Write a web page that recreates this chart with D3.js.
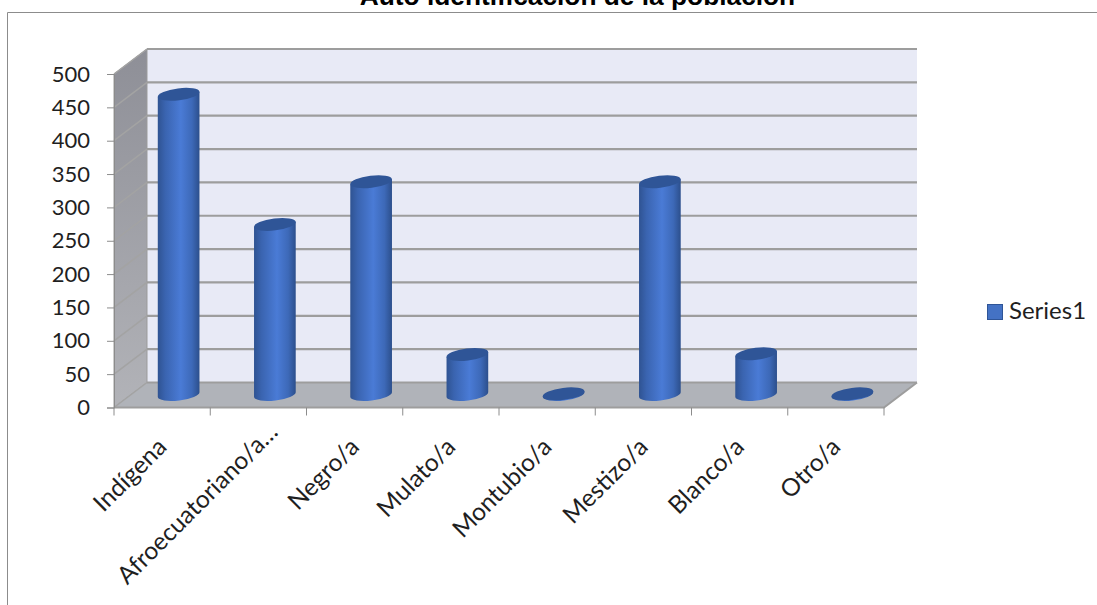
<!DOCTYPE html>
<html>
<head>
<meta charset="utf-8">
<script src="https://d3js.org/d3.v7.min.js"></script>
<style>
  html, body { margin: 0; padding: 0; background: #fff; overflow: hidden; }
  svg { display: block; }
</style>
</head>
<body>
<div id="chart"></div>
<script>
// Chart data
const categories = ["Indígena", "Afroecuatoriano/a…", "Negro/a", "Mulato/a", "Montubio/a", "Mestizo/a", "Blanco/a", "Otro/a"];
const series1 = [450, 255, 319, 60, 1, 319, 61, 1];
const yTicks = [0, 50, 100, 150, 200, 250, 300, 350, 400, 450, 500];
const seriesName = "Series1";
const chartTitle = "Auto identificación de la población";

const width = 1097, height = 605;
const depthX = 33, depthY = -25;   // offset of the back wall from the front edge

const svg = d3.select("#chart").append("svg")
    .attr("width", width)
    .attr("height", height);

const x = d3.scaleBand().domain(categories).range([114, 884]);
const y = d3.scaleLinear().domain([0, 500]).range([407.5, 74]);

// Gradients
const defs = svg.append("defs");

const barGrad = defs.append("linearGradient").attr("id", "barGrad");
barGrad.append("stop").attr("offset", "0%").attr("stop-color", "#2f5392");
barGrad.append("stop").attr("offset", "18%").attr("stop-color", "#3a64b0");
barGrad.append("stop").attr("offset", "55%").attr("stop-color", "#4a7bd6");
barGrad.append("stop").attr("offset", "82%").attr("stop-color", "#3d69b8");
barGrad.append("stop").attr("offset", "100%").attr("stop-color", "#2c4f8c");

const wallGrad = defs.append("linearGradient").attr("id", "wallGrad")
    .attr("x1", 0).attr("y1", 0).attr("x2", 0).attr("y2", 1);
wallGrad.append("stop").attr("offset", "0%").attr("stop-color", "#8e8f97");
wallGrad.append("stop").attr("offset", "100%").attr("stop-color", "#b2b3b8");

// Outer frame, only top and left show in the crop
svg.append("path")
    .attr("d", `M7.5,${height} V12.5 H${width}`)
    .attr("fill", "none")
    .attr("stroke", "#8c8c8c")
    .attr("stroke-width", 1);

// Title, the reference has its top cut by the page edge
svg.append("text")
    .attr("x", 577.5)
    .attr("y", 5)
    .attr("text-anchor", "middle")
    .attr("font-family", "Liberation Sans")
    .attr("font-weight", "bold")
    .attr("font-size", 26.3)
    .attr("fill", "#000")
    .text(chartTitle);

const x0 = x.range()[0], x1 = x.range()[1];
const pts = a => a.map(p => p.join(",")).join(" ");

// Back wall
svg.append("polygon")
    .attr("points", pts([[x0 + depthX, y(500) + depthY], [x1 + depthX, y(500) + depthY], [x1 + depthX, y(0) + depthY], [x0 + depthX, y(0) + depthY]]))
    .attr("fill", "#e8eaf6");

// Side wall
svg.append("polygon")
    .attr("points", pts([[x0, y(0)], [x0, y(500)], [x0 + depthX, y(500) + depthY], [x0 + depthX, y(0) + depthY]]))
    .attr("fill", "url(#wallGrad)")
    .attr("stroke", "#9b9b9b")
    .attr("stroke-width", 1);

// Floor
svg.append("polygon")
    .attr("points", pts([[x0, y(0)], [x0 + depthX, y(0) + depthY], [x1 + depthX, y(0) + depthY], [x1, y(0)]]))
    .attr("fill", "#b0b3b9");

// Gridlines on back wall and side wall
const grid = svg.append("g");
grid.selectAll("line.back")
    .data(yTicks)
    .join("line")
    .attr("class", "back")
    .attr("x1", x0 + depthX)
    .attr("x2", x1 + depthX)
    .attr("y1", d => y(d) + depthY)
    .attr("y2", d => y(d) + depthY)
    .attr("stroke", "#9d9d9d")
    .attr("stroke-width", 2.2);
grid.selectAll("line.side")
    .data(yTicks)
    .join("line")
    .attr("class", "side")
    .attr("x1", x0)
    .attr("x2", x0 + depthX)
    .attr("y1", d => y(d))
    .attr("y2", d => y(d) + depthY)
    .attr("stroke", "#a3a3a3")
    .attr("stroke-width", 1.5);

// Front and right floor edges
svg.append("path")
    .attr("d", `M${x0},${y(0)} H${x1} L${x1 + depthX},${y(0) + depthY}`)
    .attr("fill", "none")
    .attr("stroke", "#9d9d9d")
    .attr("stroke-width", 2);

// Y axis
const yAxis = svg.append("g")
    .attr("transform", `translate(${x0},0)`)
    .call(d3.axisLeft(y).tickValues(yTicks).tickSize(7).tickPadding(17));
yAxis.select(".domain").attr("stroke", "#8c8c8c");
yAxis.selectAll(".tick line").attr("stroke", "#8c8c8c");
yAxis.selectAll("text")
    .attr("font-family", "Lato")
    .attr("font-size", 22)
    .attr("fill", "#1f1f1f");

// X axis ticks on band edges
const edges = categories.map(c => x(c)).concat([x1]);
svg.selectAll("line.xtick")
    .data(edges)
    .join("line")
    .attr("class", "xtick")
    .attr("x1", d => d)
    .attr("x2", d => d)
    .attr("y1", y(0))
    .attr("y2", y(0) + 8)
    .attr("stroke", "#8c8c8c");

// Category labels
svg.selectAll("text.cat")
    .data(categories)
    .join("text")
    .attr("class", "cat")
    .attr("transform", d => {
        const nudge = d.endsWith("…") ? 15 : 0;
        return `translate(${x(d) + x.bandwidth() / 2 + 6 + nudge},${y(0) + 41 - nudge}) rotate(-45)`;
    })
    .attr("text-anchor", "end")
    .attr("font-family", "Lato")
    .attr("font-size", 24.5)
    .attr("fill", "#1f1f1f")
    .text(d => d);

// Cylinders
const rx = 21, ry = 6, tilt = -7;
const rad = tilt * Math.PI / 180;
const dx = rx * Math.cos(rad), dy = rx * Math.sin(rad);
const cx = d => x(d) + x.bandwidth() / 2 + depthX / 2;
const baseY = y(0) + depthY / 2 - 0.5;
const vy = d3.scaleLinear().domain(y.domain()).range([baseY, baseY + y(500) - y(0)]);

const bars = svg.append("g").selectAll("g")
    .data(categories.map((c, i) => ({ c, v: series1[i] })))
    .join("g");

bars.append("path")
    .attr("d", d => {
        const c = cx(d.c), top = vy(d.v);
        return `M${c - dx},${top - dy} L${c - dx},${baseY - dy}` +
            ` A${rx},${ry} ${tilt} 0 0 ${c + dx},${baseY + dy}` +
            ` L${c + dx},${top + dy} Z`;
    })
    .attr("fill", "url(#barGrad)");

bars.append("ellipse")
    .attr("cx", 0)
    .attr("cy", 0)
    .attr("rx", rx)
    .attr("ry", ry)
    .attr("transform", d => `translate(${cx(d.c)},${vy(d.v)}) rotate(${tilt})`)
    .attr("fill", "#2f5597");

// Legend
svg.append("rect")
    .attr("x", 987.5)
    .attr("y", 304.5)
    .attr("width", 15)
    .attr("height", 15)
    .attr("fill", "#4472c4")
    .attr("stroke", "#2f5597");
svg.append("text")
    .attr("x", 1009)
    .attr("y", 319)
    .attr("font-family", "Lato")
    .attr("font-size", 24)
    .attr("fill", "#1f1f1f")
    .text(seriesName);
</script>
</body>
</html>
